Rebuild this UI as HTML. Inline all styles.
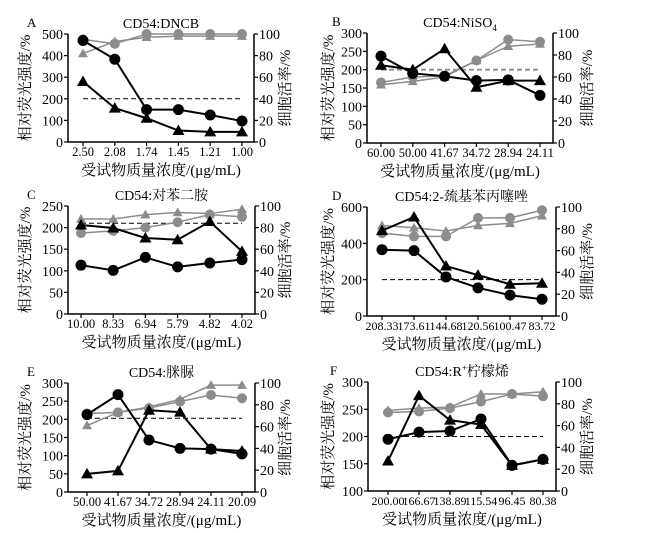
<!DOCTYPE html>
<html><head><meta charset="utf-8">
<style>
html,body{margin:0;padding:0;background:#fff;}
svg{display:block;font-family:"Liberation Serif","Noto Serif CJK SC",serif;}
</style></head>
<body>
<svg id="chart" width="657" height="533" viewBox="0 0 657 533" xmlns="http://www.w3.org/2000/svg"></svg>
<script>
// ---- data ----
const catsA = ["2.50","2.08","1.74","1.45","1.21","1.00"];
const fluoCircA = [470,383,150,150,125,97];
const fluoTriA = [280,157,110,53,47,47];
const viaCircA = [95,91,100,100,100,100];
const viaTriA = [82,93,97,98,98,98];

const catsB = ["60.00","50.00","41.67","34.72","28.94","24.11"];
const fluoCircB = [237,190,182,170,172,130];
const fluoTriB = [212,200,257,152,170,170];
const viaCircB = [55,60,61,75,94,92];
const viaTriB = [53,56,60,75,88,90];

const catsC = ["10.00","8.33","6.94","5.79","4.82","4.02"];
const fluoCircC = [113,101,131,109,118,126];
const fluoTriC = [206,199,176,172,214,145];
const viaCircC = [75,77,80,85,92,90];
const viaTriC = [88,88,92,94,93,97];

const catsD = ["208.33","173.61","144.68","120.56","100.47","83.72"];
const fluoCircD = [365,360,215,155,115,92];
const fluoTriD = [470,545,275,225,175,180];
const viaCircD = [76,73,73,90,90,97];
const viaTriD = [83,81,78,83,85,92];

const catsE = ["50.00","41.67","34.72","28.94","24.11","20.09"];
const fluoCircE = [213,268,143,120,118,105];
const fluoTriE = [50,58,225,220,118,113];
const viaCircE = [72,73,77,83,89,86];
const viaTriE = [61,73,78,85,98,98];

const catsF = ["200.00","166.67","138.89","115.54","96.45","80.38"];
const fluoCircF = [195,208,210,232,147,158];
const fluoTriF = [155,275,230,222,147,158];
const viaCircF = [72,73,76,82,89,87];
const viaTriF = [74,76,77,89,89,91];

const leftTicksA = [0,100,200,300,400,500];
const leftTicksB = [0,50,100,150,200,250,300];
const leftTicksC = [0,50,100,150,200,250];
const leftTicksD = [0,200,400,600];
const leftTicksE = [0,50,100,150,200,250,300];
const leftTicksF = [100,150,200,250,300];
const rightTicks = [0,20,40,60,80,100];
const thresholds = [200,200,210,200,203,200];

// ---- layout ----
const NS="http://www.w3.org/2000/svg";
const svg=document.getElementById('chart');
function mk(tag,attrs,parent,text){
  const e=document.createElementNS(NS,tag);
  for(const k in attrs) e.setAttribute(k,attrs[k]);
  if(text!==undefined) e.textContent=text;
  (parent||svg).appendChild(e);
  return e;
}
const panels=[
 {id:"a",letter:"A",title:"CD54:DNCB",cats:catsA,fc:fluoCircA,ft:fluoTriA,vc:viaCircA,vt:viaTriA,lt:leftTicksA,L:68,R:254,T:34,B:142,x0:83,x1:242,lx:30,rx:290,lyx:27,dashGray:false,xf:12.5},
 {id:"b",letter:"B",title:"CD54:NiSO",sub:"4",cats:catsB,fc:fluoCircB,ft:fluoTriB,vc:viaCircB,vt:viaTriB,lt:leftTicksB,L:367,R:553,T:33,B:143,x0:381,x1:540,lx:333,rx:592,lyx:332,dashGray:true,xf:12.5},
 {id:"c",letter:"C",title:"CD54:对苯二胺",cats:catsC,fc:fluoCircC,ft:fluoTriC,vc:viaCircC,vt:viaTriC,lt:leftTicksC,L:68,R:255,T:206,B:314,x0:81,x1:242,lx:30,rx:290,lyx:27,dashGray:false,xf:12.5},
 {id:"d",letter:"D",title:"CD54:2-巯基苯丙噻唑",cats:catsD,fc:fluoCircD,ft:fluoTriD,vc:viaCircD,vt:viaTriD,lt:leftTicksD,L:367,R:556,T:207,B:316,x0:382,x1:542,lx:333,rx:592,lyx:332,dashGray:false,xf:12},
 {id:"e",letter:"E",title:"CD54:脒脲",cats:catsE,fc:fluoCircE,ft:fluoTriE,vc:viaCircE,vt:viaTriE,lt:leftTicksE,L:68,R:255,T:383,B:492,x0:87,x1:242,lx:30,rx:290,lyx:27,dashGray:false,xf:12.5},
 {id:"f",letter:"F",title:"CD54:R",sup:"+",title2:"柠檬烯",cats:catsF,fc:fluoCircF,ft:fluoTriF,vc:viaCircF,vt:viaTriF,lt:leftTicksF,L:368,R:556,T:382,B:491,x0:388,x1:543,lx:333,rx:592,lyx:330,dashGray:false,xf:12}
];
const GRAY="#8c8c8c";
panels.forEach((p,pi)=>{
  const g=mk('g',{});
  
  
  const lmin=p.lt[0], lmax=p.lt[p.lt.length-1];
  const yL=v=>p.B-(v-lmin)/(lmax-lmin)*(p.B-p.T);
  const yR=v=>p.B-v/100*(p.B-p.T);
  const xS=i=>p.x0+i*(p.x1-p.x0)/(p.cats.length-1);
  const lt=mk('text',{x:p.lyx,y:p.T-7,'font-size':13},g,p.letter);
  
  
  const tt=mk('text',{x:(p.L+p.R)/2,y:p.T-6,'font-size':14,'text-anchor':'middle'},g);
  
  
  tt.appendChild(document.createTextNode(p.title));
  if(p.sub){mk('tspan',{'font-size':9,dy:4},tt,p.sub);}
  if(p.sup){mk('tspan',{'font-size':9,dy:-5},tt,p.sup);mk('tspan',{dy:5},tt,p.title2);}
  const ax=mk('path',{d:`M${p.L},${p.T}V${p.B}H${p.R}V${p.T}`,fill:'none',stroke:'#000','stroke-width':1.5},g);
  
  
  p.lt.forEach(v=>{
    const y=yL(v);
    mk('line',{x1:p.L-4,x2:p.L,y1:y,y2:y,stroke:'#000','stroke-width':1.2},g);
    const t=mk('text',{x:p.L-5,y:y+5,'font-size':14,'text-anchor':'end'},g,v);
    
    
  });
  rightTicks.forEach(v=>{
    const y=yR(v);
    mk('line',{x1:p.R,x2:p.R+4,y1:y,y2:y,stroke:'#000','stroke-width':1.2},g);
    const t=mk('text',{x:p.R+5,y:y+5,'font-size':14},g,v);
    
    
  });
  p.cats.forEach((c,i)=>{
    const x=xS(i);
    mk('line',{x1:x,x2:x,y1:p.B,y2:p.B+4,stroke:'#000','stroke-width':1.2},g);
    const t=mk('text',{x:x,y:p.B+14,'font-size':p.xf,'text-anchor':'middle'},g,c);
    
    
  });
  const xt=mk('text',{x:(p.L+p.R)/2,y:p.B+33,'font-size':15,'text-anchor':'middle'},g,'受试物质量浓度/(μg/mL)');
  
  
  const cy=(p.T+p.B)/2;
  const yt=mk('text',{x:p.lx,y:cy,'font-size':15,'text-anchor':'middle',transform:`rotate(-90 ${p.lx} ${cy})`},g,'相对荧光强度/%');
  
  
  const rt=mk('text',{x:p.rx,y:cy,'font-size':15,'text-anchor':'middle',transform:`rotate(-90 ${p.rx} ${cy})`},g,'细胞活率/%');
  
  
  const ty=yL(thresholds[pi]);
  const dl=mk('line',{x1:xS(0),x2:xS(5),y1:ty,y2:ty,stroke:p.dashGray?GRAY:'#000','stroke-width':p.dashGray?1.8:1,'stroke-dasharray':'5,3'},g);
  
  
  const series=[
    {vals:p.vc,scale:yR,col:GRAY,w:1.5,m:'c',r:5,name:'viability-circle'},
    {vals:p.vt,scale:yR,col:GRAY,w:1.5,m:'t',r:5,name:'viability-triangle'},
    {vals:p.ft,scale:yL,col:'#000',w:2,m:'t',r:6,name:'fluorescence-triangle'},
    {vals:p.fc,scale:yL,col:'#000',w:2,m:'c',r:5.5,name:'fluorescence-circle'}
  ];
  series.forEach(s=>{
    const sg=mk('g',{},g);
    
    
    const pts=s.vals.map((v,i)=>xS(i)+','+s.scale(v)).join(' ');
    mk('polyline',{points:pts,fill:'none',stroke:s.col,'stroke-width':s.w},sg);
    s.vals.forEach((v,i)=>{
      const x=xS(i),y=s.scale(v);
      let e;
      if(s.m==='c') e=mk('circle',{cx:x,cy:y,r:s.r,fill:s.col},sg);
      else e=mk('polygon',{points:`${x},${y-s.r} ${x-s.r},${y+s.r*0.75} ${x+s.r},${y+s.r*0.75}`,fill:s.col},sg);
      
      
    });
  });
});
</script>
</body></html>
